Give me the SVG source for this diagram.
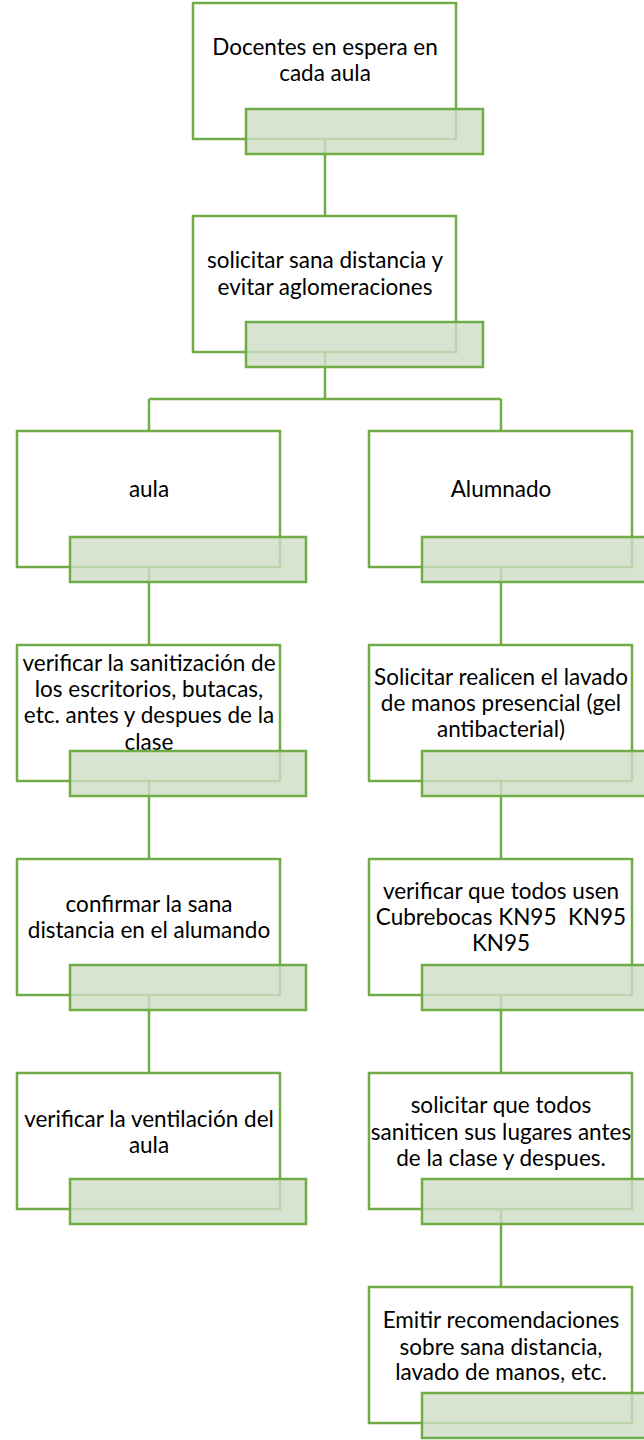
<svg xmlns="http://www.w3.org/2000/svg" width="644" height="1440" viewBox="0 0 644 1440">
<style>
.box{fill:#ffffff;stroke:#70ad47;stroke-width:2.5}
.lbl{fill:rgb(206,221,197);fill-opacity:0.8;stroke:#70ad47;stroke-width:2.5}
.con{fill:none;stroke:#70ad47;stroke-width:2.5}
text{font-family:Lato,"Open Sans",sans-serif;font-size:22.5px;fill:#000000;text-anchor:middle}
</style>
<rect width="644" height="1440" fill="#ffffff"/>
<g id="connectors">
<path class="con" d="M325 139V216"/>
<path class="con" d="M325 352V399M149 399H501M149 399V431M501 399V431"/>
<path class="con" d="M149 567V645M149 781V859M149 995V1073"/>
<path class="con" d="M501 567V645M501 781V859M501 995V1073M501 1209V1287"/>
</g>
<g id="n1">
<rect class="box" x="193" y="3" width="263" height="136"/>
<rect class="lbl" x="246" y="109" width="237" height="45"/>
<text x="325" y="55">Docentes en espera en</text>
<text x="325" y="81">cada aula</text>
</g>
<g id="n2">
<rect class="box" x="193" y="216" width="263" height="136"/>
<rect class="lbl" x="246" y="322" width="237" height="45"/>
<text x="325" y="268">solicitar sana distancia y</text>
<text x="325" y="295">evitar aglomeraciones</text>
</g>
<g id="n3">
<rect class="box" x="17" y="431" width="263" height="136"/>
<rect class="lbl" x="70" y="537" width="236" height="45"/>
<text x="149" y="497">aula</text>
</g>
<g id="n4">
<rect class="box" x="369" y="431" width="263" height="136"/>
<rect class="lbl" x="422" y="537" width="236" height="45"/>
<text x="501" y="497">Alumnado</text>
</g>
<g id="n5">
<rect class="box" x="17" y="645" width="263" height="136"/>
<text x="149" y="671">verificar la sanitización de</text>
<text x="149" y="697">los escritorios, butacas,</text>
<text x="149" y="723">etc. antes y despues de la</text>
<text x="149" y="750">clase</text>
<rect class="lbl" x="70" y="751" width="236" height="45"/>
</g>
<g id="n6">
<rect class="box" x="369" y="645" width="263" height="136"/>
<rect class="lbl" x="422" y="751" width="236" height="45"/>
<text x="501" y="685">Solicitar realicen el lavado</text>
<text x="501" y="711">de manos presencial (gel</text>
<text x="501" y="737">antibacterial)</text>
</g>
<g id="n7">
<rect class="box" x="17" y="859" width="263" height="136"/>
<rect class="lbl" x="70" y="965" width="236" height="45"/>
<text x="149" y="912">confirmar la sana</text>
<text x="149" y="938">distancia en el alumando</text>
</g>
<g id="n8">
<rect class="box" x="369" y="859" width="263" height="136"/>
<rect class="lbl" x="422" y="965" width="236" height="45"/>
<text x="501" y="899">verificar que todos usen</text>
<text x="501" y="925" xml:space="preserve">Cubrebocas KN95  KN95</text>
<text x="501" y="951">KN95</text>
</g>
<g id="n9">
<rect class="box" x="17" y="1073" width="263" height="136"/>
<rect class="lbl" x="70" y="1179" width="236" height="45"/>
<text x="149" y="1127">verificar la ventilación del</text>
<text x="149" y="1153">aula</text>
</g>
<g id="n10">
<rect class="box" x="369" y="1073" width="263" height="136"/>
<rect class="lbl" x="422" y="1179" width="236" height="45"/>
<text x="501" y="1113">solicitar que todos</text>
<text x="501" y="1140">saniticen sus lugares antes</text>
<text x="501" y="1166">de la clase y despues.</text>
</g>
<g id="n11">
<rect class="box" x="369" y="1287" width="263" height="136"/>
<rect class="lbl" x="422" y="1393" width="236" height="45"/>
<text x="501" y="1328">Emitir recomendaciones</text>
<text x="501" y="1355">sobre sana distancia,</text>
<text x="501" y="1380">lavado de manos, etc.</text>
</g>
</svg>
